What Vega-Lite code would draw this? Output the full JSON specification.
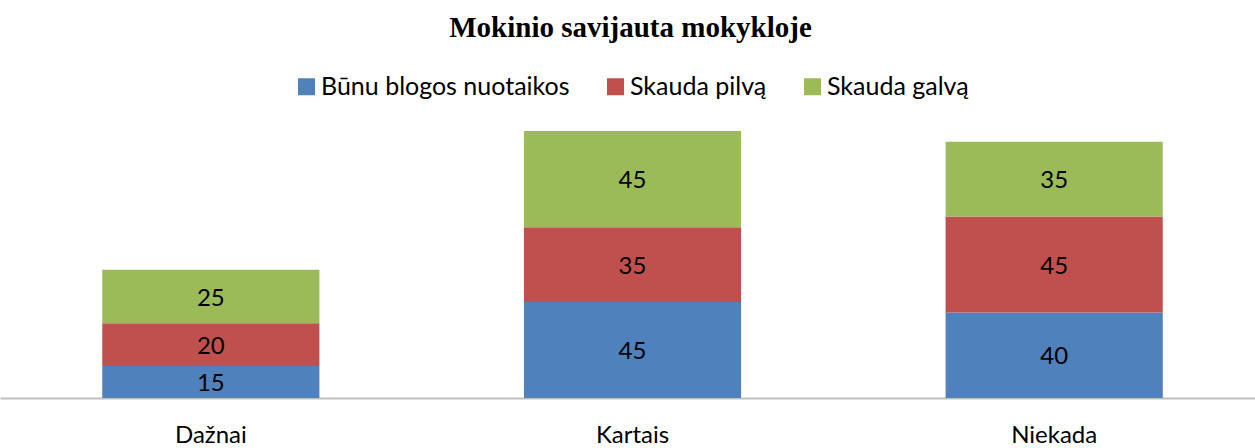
{
  "$schema": "https://vega.github.io/schema/vega-lite/v6.json",
  "width": 1255,
  "height": 299,
  "autosize": {"type": "none"},
  "padding": {"left": 0, "top": 99, "right": 0, "bottom": 50},
  "background": "white",
  "config": {"view": {"stroke": null}},
  "title": {
    "text": "Mokinio savijauta mokykloje",
    "font": "Liberation Serif",
    "fontSize": 29,
    "fontWeight": "bold",
    "color": "#000000",
    "anchor": "middle",
    "frame": "group",
    "baseline": "alphabetic",
    "offset": 8,
    "dx": 3
  },
  "data": {
    "values": [
      {"kategorija": "Dažnai", "savijauta": "Būnu blogos nuotaikos", "eile": 1, "procentai": 15},
      {"kategorija": "Dažnai", "savijauta": "Skauda pilvą", "eile": 2, "procentai": 20},
      {"kategorija": "Dažnai", "savijauta": "Skauda galvą", "eile": 3, "procentai": 25},
      {"kategorija": "Kartais", "savijauta": "Būnu blogos nuotaikos", "eile": 1, "procentai": 45},
      {"kategorija": "Kartais", "savijauta": "Skauda pilvą", "eile": 2, "procentai": 35},
      {"kategorija": "Kartais", "savijauta": "Skauda galvą", "eile": 3, "procentai": 45},
      {"kategorija": "Niekada", "savijauta": "Būnu blogos nuotaikos", "eile": 1, "procentai": 40},
      {"kategorija": "Niekada", "savijauta": "Skauda pilvą", "eile": 2, "procentai": 45},
      {"kategorija": "Niekada", "savijauta": "Skauda galvą", "eile": 3, "procentai": 35}
    ]
  },
  "encoding": {
    "x": {
      "field": "kategorija",
      "type": "nominal",
      "sort": ["Dažnai", "Kartais", "Niekada"],
      "scale": {"range": [0, 1265], "paddingInner": 0.485, "paddingOuter": 0.2425},
      "axis": {
        "title": null,
        "labelAngle": 0,
        "ticks": false,
        "grid": false,
        "domainColor": "#BFBFBF",
        "domainWidth": 2,
        "labelFont": "Lato",
        "labelFontSize": 24,
        "labelColor": "#000000",
        "labelPadding": 25
      }
    }
  },
  "layer": [
    {
      "mark": {"type": "bar"},
      "encoding": {
        "y": {
          "field": "procentai",
          "type": "quantitative",
          "stack": "zero",
          "scale": {"domain": [0, 140], "nice": false},
          "axis": null
        },
        "order": {"field": "eile", "type": "quantitative"},
        "color": {
          "field": "savijauta",
          "type": "nominal",
          "sort": ["Būnu blogos nuotaikos", "Skauda pilvą", "Skauda galvą"],
          "scale": {
            "domain": ["Būnu blogos nuotaikos", "Skauda pilvą", "Skauda galvą"],
            "range": ["#4F81BD", "#C0504D", "#9BBB59"]
          },
          "legend": {
            "orient": "none",
            "legendX": 294,
            "legendY": -25,
            "direction": "horizontal",
            "title": null,
            "symbolType": "square",
            "symbolSize": 289,
            "symbolStrokeWidth": 0,
            "labelFont": "Lato",
            "labelFontSize": 25,
            "labelColor": "#000000",
            "labelLimit": 500,
            "labelOffset": 2,
            "columnPadding": 33
          }
        }
      }
    },
    {
      "transform": [
        {"stack": "procentai", "groupby": ["kategorija"], "sort": [{"field": "eile"}], "as": ["y0", "y1"]},
        {"calculate": "(datum.y0 + datum.y1) / 2", "as": "vidurys"}
      ],
      "mark": {"type": "text", "font": "Lato", "fontSize": 24, "color": "#000000", "baseline": "middle", "align": "center", "dy": 2},
      "encoding": {
        "y": {"field": "vidurys", "type": "quantitative", "scale": {"domain": [0, 140], "nice": false}, "axis": null},
        "text": {"field": "procentai", "type": "quantitative"}
      }
    }
  ]
}
